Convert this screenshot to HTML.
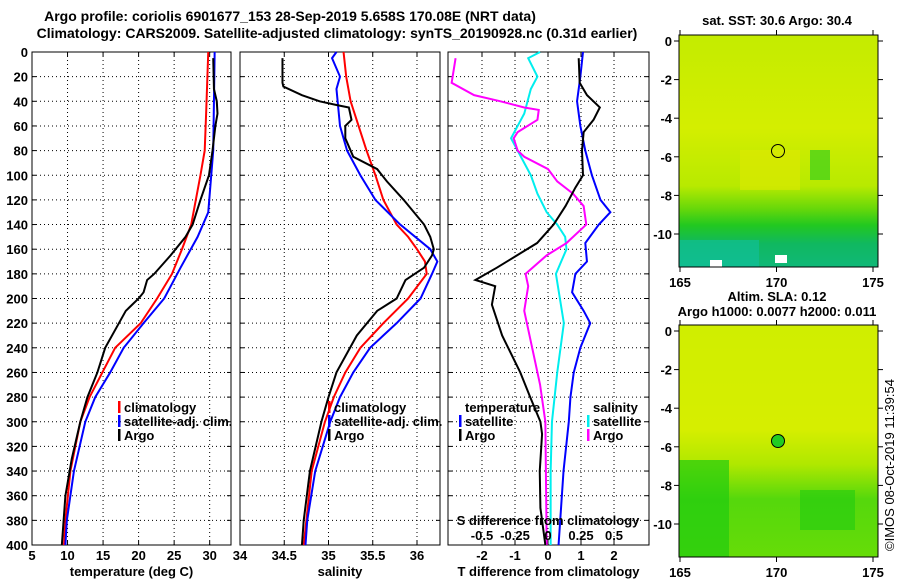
<!DOCTYPE html>
<html><head><meta charset="utf-8"><style>
body{margin:0;background:#fff;}
svg{display:block;font-family:"Liberation Sans",sans-serif;font-weight:bold;}
text{font-size:13px;fill:#000;}
</style></head><body>
<svg id="fig" width="900" height="580" viewBox="0 0 900 580">
<defs>
<linearGradient id="sstg" x1="0" y1="0" x2="0" y2="1">
<stop offset="0" stop-color="#c4ec00"/><stop offset="0.4" stop-color="#d4ee00"/><stop offset="0.65" stop-color="#b8ea00"/>
<stop offset="0.75" stop-color="#66d80a"/><stop offset="0.82" stop-color="#22c820"/><stop offset="0.9" stop-color="#10b860"/><stop offset="1" stop-color="#10b878"/>
</linearGradient>
<linearGradient id="slag" x1="0" y1="0" x2="0" y2="1">
<stop offset="0" stop-color="#d0ee00"/><stop offset="0.45" stop-color="#d6ee00"/><stop offset="0.6" stop-color="#b0e800"/>
<stop offset="0.75" stop-color="#55d80c"/><stop offset="1" stop-color="#66dc08"/>
</linearGradient>
</defs>
<text x="290" y="21" text-anchor="middle" style="font-size:14px">Argo profile: coriolis 6901677_153 28-Sep-2019 5.658S 170.08E (NRT data)</text>
<text x="337" y="38" text-anchor="middle" style="font-size:14px">Climatology: CARS2009. Satellite-adjusted climatology: synTS_20190928.nc (0.31d earlier)</text>
<g id="panels"></g>
<g>
<text x="777" y="25" text-anchor="middle">sat. SST: 30.6 Argo: 30.4</text>
<rect x="679" y="35" width="199" height="232" fill="url(#sstg)"/>
<rect x="740" y="150" width="60" height="40" fill="#e0e800" opacity="0.6"/>
<rect x="810" y="150" width="20" height="30" fill="#22cc22" opacity="0.6"/>
<rect x="679" y="240" width="80" height="27" fill="#10c0a0" opacity="0.6"/>
<rect x="710" y="260" width="12" height="7" fill="#fff"/><rect x="775" y="255" width="12" height="8" fill="#fff"/>
<circle cx="778" cy="151" r="6.5" fill="none" stroke="#000" stroke-width="1"/>
<rect x="679" y="35" width="199" height="232" fill="none" stroke="#000"/>
</g>
<g>
<text x="777" y="301" text-anchor="middle">Altim. SLA: 0.12</text>
<text x="777" y="316" text-anchor="middle">Argo h1000: 0.0077 h2000: 0.011</text>
<rect x="679" y="325" width="199" height="232" fill="url(#slag)"/>
<rect x="679" y="460" width="50" height="97" fill="#20cc10" opacity="0.7"/>
<rect x="800" y="490" width="55" height="40" fill="#20cc10" opacity="0.6"/>
<circle cx="778" cy="441" r="6.5" fill="#22cc22" stroke="#000" stroke-width="1"/>
<rect x="679" y="325" width="199" height="232" fill="none" stroke="#000"/>
</g>
<g id="maxes"></g>
<text transform="translate(894,465) rotate(-90)" text-anchor="middle" style="font-weight:normal;font-size:13px">©IMOS 08-Oct-2019 11:39:54</text>
</svg>
<script>
const depthTicks=[0,20,40,60,80,100,120,140,160,180,200,220,240,260,280,300,320,340,360,380,400];
const tempTicks=[5,10,15,20,25,30];
const salTicks=[34,34.5,35,35.5,36];
const tdTicks=[-2,-1,0,1,2];
const sdTickLabels=["-0.5","-0.25","0","0.25","0.5"];
const sdTicks=[-0.5,-0.25,0,0.25,0.5];
const tClimD=[0,50,80,100,140,160,180,200,220,240,260,280,300,340,380,400];
const tClimV=[29.8,29.5,29.3,28.7,27.4,26.1,24.7,22.6,20.3,16.7,14.9,13.1,11.8,10.4,9.7,9.5];
const tSatD=[0,80,130,150,175,200,220,240,260,280,300,340,380,400];
const tSatV=[30.7,30.5,29.8,28.3,25.9,23.6,20.7,17.9,16.0,13.9,12.5,10.9,9.9,9.7];
const tArgoD=[5,30,40,50,60,80,100,120,140,150,165,180,185,195,200,210,240,260,280,300,330,360,400];
const tArgoV=[30.5,30.6,31.0,31.1,30.8,30.4,29.9,28.7,27.6,26.6,24.5,22.2,21.2,20.7,20.0,18.2,15.3,14.2,12.8,11.8,10.6,9.7,9.2];
const sClimD=[0,20,40,60,80,100,120,140,150,160,170,180,200,220,240,260,280,300,340,380,400];
const sClimV=[35.17,35.2,35.25,35.34,35.43,35.53,35.62,35.77,35.9,36.0,36.09,36.11,35.9,35.62,35.36,35.19,35.06,34.96,34.81,34.75,34.72];
const sSatD=[0,5,20,30,60,80,100,120,140,160,170,180,200,220,240,260,280,300,340,380,400];
const sSatV=[35.09,35.04,35.13,35.09,35.13,35.21,35.36,35.53,35.81,36.15,36.23,36.17,36.04,35.77,35.47,35.28,35.13,35.02,34.85,34.76,34.74];
const sArgoD=[5,25,28,35,40,43,45,55,60,70,85,95,105,120,140,150,160,165,175,185,200,210,230,260,280,300,340,380,400];
const sArgoV=[34.48,34.48,34.49,34.7,34.9,35.09,35.23,35.26,35.19,35.19,35.28,35.55,35.66,35.85,36.08,36.15,36.19,36.17,36.08,35.87,35.77,35.55,35.32,35.09,35.0,34.92,34.79,34.72,34.7];
const dTSatD=[0,20,40,60,80,100,120,130,140,155,170,180,195,210,220,240,260,280,300,340,380,400];
const dTSatV=[1.06,0.98,0.88,0.98,1.13,1.33,1.59,1.89,1.54,1.13,1.18,0.83,0.73,1.08,1.28,0.98,0.78,0.68,0.63,0.47,0.37,0.32];
const dTArgoD=[5,25,35,45,55,65,80,100,110,125,140,155,165,175,185,190,205,230,260,280,300,310,340,370,390,400];
const dTArgoV=[0.93,0.96,1.18,1.57,1.38,1.08,1.03,1.06,0.83,0.53,0.17,-0.33,-0.94,-1.55,-2.2,-1.6,-1.7,-1.39,-0.84,-0.54,-0.23,-0.18,-0.25,-0.23,-0.13,-0.08];
const dSSatD=[0,5,20,30,50,60,70,80,100,115,130,140,150,160,170,180,200,220,260,300,340,400];
const dSSatV=[-0.06,-0.15,-0.08,-0.13,-0.18,-0.23,-0.28,-0.23,-0.13,-0.08,-0.01,0.07,0.13,0.14,0.1,0.06,0.09,0.12,0.07,0.03,0.02,0.02];
const dSArgoD=[5,25,35,40,45,47,55,65,70,80,85,95,105,115,125,140,155,165,180,190,210,240,270,300,400];
const dSArgoV=[-0.70,-0.73,-0.56,-0.36,-0.18,-0.07,-0.08,-0.23,-0.26,-0.23,-0.18,0.0,0.07,0.19,0.27,0.29,0.14,-0.01,-0.17,-0.15,-0.18,-0.12,-0.06,-0.02,-0.01];
const latTicks=[0,-2,-4,-6,-8,-10];
const lonTicks=[165,170,175];

const NS="http://www.w3.org/2000/svg";
const root=document.getElementById('panels');
function mk(tag,attrs,parent){const e=document.createElementNS(NS,tag);for(const k in attrs)e.setAttribute(k,attrs[k]);(parent||root).appendChild(e);return e;}
const Y0=52,Y1=545;
const yD=d=>Y0+(Y1-Y0)*d/400;

function panel(name,x0,x1,vmin,vmax,xt,showLabels,xlabel){
  const g=mk('g',{});
  
  
  const sx=v=>x0+(x1-x0)*(v-vmin)/(vmax-vmin);
  depthTicks.forEach(d=>{
    const y=yD(d);
    if(d>0&&d<400){const l=mk('line',{x1:x0,x2:x1,y1:y,y2:y,stroke:'#000','stroke-width':1,'stroke-dasharray':'1,3'},g);
      }
    mk('line',{x1:x0,x2:x0+4,y1:y,y2:y,stroke:'#000'},g);mk('line',{x1:x1-4,x2:x1,y1:y,y2:y,stroke:'#000'},g);
    if(showLabels){const t=mk('text',{x:x0-4,y:y+5,'text-anchor':'end'},g);t.textContent=d;
      }
  });
  xt.forEach(v=>{
    const x=sx(v);
    if(v>vmin&&v<vmax){const l=mk('line',{x1:x,x2:x,y1:Y0,y2:Y1,stroke:'#000','stroke-dasharray':'1,3'},g);
      }
    mk('line',{x1:x,x2:x,y1:Y1-4,y2:Y1,stroke:'#000'},g);mk('line',{x1:x,x2:x,y1:Y0,y2:Y0+4,stroke:'#000'},g);
    const t=mk('text',{x:x,y:Y1+15,'text-anchor':'middle'},g);t.textContent=v;
    
  });
  mk('rect',{x:x0,y:Y0,width:x1-x0,height:Y1-Y0,fill:'none',stroke:'#000'},g);
  const xl=mk('text',{x:(x0+x1)/2,y:576,'text-anchor':'middle'},g);xl.textContent=xlabel;
  
  return {g,sx};
}
function line(p,D,V,color,nm,w,scale){
  const pts=D.map((d,i)=>p.sx(V[i]*(scale||1))+','+yD(d)).join(' ');
  const l=mk('polyline',{points:pts,fill:'none',stroke:color,'stroke-width':w||2},p.g);
  
  
}
function legend(g,x,y,items,header){
  let yy=y;
  if(header){const t=mk('text',{x:x+6,y:yy},g);t.textContent=header;yy+=14;}
  items.forEach(([c,label])=>{
    mk('rect',{x:x,y:yy-11,width:2.5,height:12,fill:c},g);
    const t=mk('text',{x:x+6,y:yy},g);t.textContent=label;
    
    yy+=14;
  });
}
const p1=panel('temperature-panel',32,231,5,33,tempTicks,true,'temperature (deg C)');
line(p1,tClimD,tClimV,'#f00','climatology-temp-line');
line(p1,tSatD,tSatV,'#00f','satellite-temp-line');
line(p1,tArgoD,tArgoV,'#000','argo-temp-line');
legend(p1.g,118,412,[['#f00','climatology'],['#00f','satellite-adj. clim.'],['#000','Argo']]);

const p2=panel('salinity-panel',240,440,34,36.26,salTicks,false,'salinity');
line(p2,sClimD,sClimV,'#f00','climatology-sal-line');
line(p2,sSatD,sSatV,'#00f','satellite-sal-line');
line(p2,sArgoD,sArgoV,'#000','argo-sal-line');
legend(p2.g,328,412,[['#f00','climatology'],['#00f','satellite-adj. clim.'],['#000','Argo']]);

const p3=panel('difference-panel',448,649,-3.03,3.06,tdTicks,false,'T difference from climatology');
line(p3,dSSatD,dSSatV,'#0ee','sal-diff-satellite-line',2,4);
line(p3,dSArgoD,dSArgoV,'#f0f','sal-diff-argo-line',2,4);
line(p3,dTSatD,dTSatV,'#00f','temp-diff-satellite-line');
line(p3,dTArgoD,dTArgoV,'#000','temp-diff-argo-line');
legend(p3.g,459,412,[['#00f','satellite'],['#000','Argo']],'temperature');
legend(p3.g,587,412,[['#0ee','satellite'],['#f0f','Argo']],'salinity');
const st=mk('text',{x:548,y:525,'text-anchor':'middle'},p3.g);st.textContent='S difference from climatology';

sdTicks.forEach((v,i)=>{const t=mk('text',{x:p3.sx(v*4),y:540,'text-anchor':'middle'},p3.g);t.textContent=sdTickLabels[i];
  });

const mg=document.getElementById('maxes');
function mapAxes(top,lat0y){
  latTicks.forEach(v=>{const y=lat0y+v*-19.3;
    mk('line',{x1:674,x2:679,y1:y,y2:y,stroke:'#000'},mg);mk('line',{x1:878,x2:883,y1:y,y2:y,stroke:'#000'},mg);
    const t=mk('text',{x:672,y:y+5,'text-anchor':'end'},mg);t.textContent=v;
    });
  lonTicks.forEach(v=>{const x=680+(v-165)*19.3;
    mk('line',{x1:x,x2:x,y1:top+232,y2:top+237,stroke:'#000'},mg);mk('line',{x1:x,x2:x,y1:top-5,y2:top,stroke:'#000'},mg);
    const t=mk('text',{x:x,y:top+252,'text-anchor':'middle'},mg);t.textContent=v;
    });
}
mapAxes(35,41);mapAxes(325,331);
</script>
</body></html>
